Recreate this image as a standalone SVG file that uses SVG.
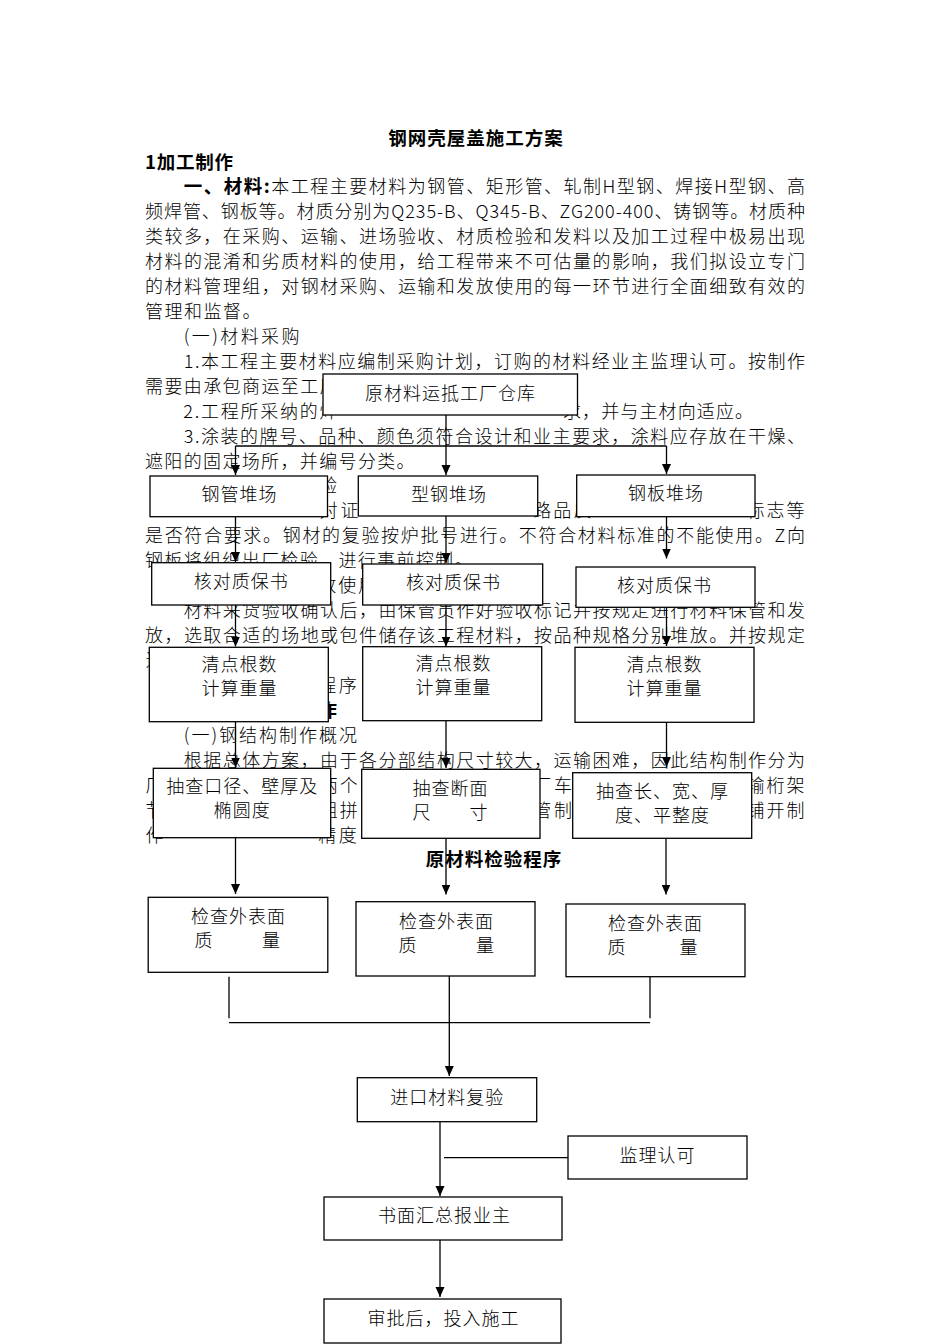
<svg xmlns="http://www.w3.org/2000/svg" width="950" height="1344" viewBox="0 0 950 1344">
<defs>
<style>
text{font-family:"Noto Sans CJK SC","Noto Sans CJK JP",sans-serif;font-size:18px;fill:#000;font-weight:300}
.b{font-weight:bold;font-size:18.5px}
.m{text-anchor:middle;letter-spacing:1px}
.box{fill:#fff;stroke:#000;stroke-width:1.3}
.ln{stroke:#000;stroke-width:1.3;fill:none}
.ar{marker-end:url(#ah)}
</style>
<marker id="ah" markerUnits="userSpaceOnUse" markerWidth="10" markerHeight="10" viewBox="0 0 10 10" refX="10" refY="5" orient="auto"><path d="M0,0.5 L10,5 L0,9.5 z" fill="#000"/></marker>
</defs>
<rect width="950" height="1344" fill="#fff"/>
<g id="body-text">
<text class="b m" x="476" y="145">钢网壳屋盖施工方案</text>
<text class="b" x="145" y="169" textLength="88">1加工制作</text>
<text x="183.8" y="193" textLength="621.2"><tspan class="b">一、材料:</tspan>本工程主要材料为钢管、矩形管、轧制H型钢、焊接H型钢、高</text>
<text x="145" y="218" textLength="660">频焊管、钢板等。材质分别为Q235-B、Q345-B、ZG200-400、铸钢等。材质种</text>
<text x="145" y="243" textLength="660">类较多，在采购、运输、进场验收、材质检验和发料以及加工过程中极易出现</text>
<text x="145" y="268" textLength="660">材料的混淆和劣质材料的使用，给工程带来不可估量的影响，我们拟设立专门</text>
<text x="145" y="293" textLength="660">的材料管理组，对钢材采购、运输和发放使用的每一环节进行全面细致有效的</text>
<text x="145" y="318" textLength="115.6">管理和监督。</text>
<text x="183.8" y="343" textLength="115.6">(一)材料采购</text>
<text x="183.8" y="368" textLength="621.2">1.本工程主要材料应编制采购计划，订购的材料经业主监理认可。按制作</text>
<text x="145" y="393" textLength="192.6">需要由承包商运至工厂</text>
<text x="183.3" y="417.5" textLength="154.1">2.工程所采纳的焊</text>
<text x="563" y="417.5" textLength="190">求，并与主材向适应。</text>
<text x="183.8" y="442.5" textLength="621.2">3.涂装的牌号、品种、颜色须符合设计和业主要求，涂料应存放在干燥、</text>
<text x="145" y="467.5" textLength="269.6">遮阳的固定场所，并编号分类。</text>
<text x="319" y="492.4">验</text>
<text x="319.7" y="517.4" textLength="38.8">对证</text>
<text x="533.2" y="517.4" textLength="58.2">路品质</text>
<text x="746.4" y="517.4" textLength="58.2">标志等</text>
<text x="145" y="542.3" textLength="660">是否符合要求。钢材的复验按炉批号进行。不符合材料标准的不能使用。Z向</text>
<text x="145" y="567.3" textLength="327.4">钢板将组织出厂检验，进行事前控制。</text>
<text x="318.3" y="592.2" textLength="57.8">放使用</text>
<text x="183.8" y="617.2" textLength="621.2">材料来货验收确认后，由保管员作好验收标记并按规定进行材料保管和发</text>
<text x="145" y="642.1" textLength="660">放，选取合适的场地或包件储存该工程材料，按品种规格分别堆放。并按规定</text>
<text x="145.5" y="667">进</text>
<text x="318.3" y="692" textLength="38.5">程序</text>
<text class="b" x="318.5" y="717">作</text>
<text x="183.8" y="741.9" textLength="173.3">(一)钢结构制作概况</text>
<text x="183.8" y="766.9" textLength="621.2">根据总体方案，由于各分部结构尺寸较大，运输困难，因此结构制作分为</text>
<text x="145.5" y="791.8">厂</text>
<text x="319.7" y="791.8" textLength="58.2">两个阶</text>
<text x="533.2" y="791.8" textLength="38.8">厂车</text>
<text x="746.4" y="791.8" textLength="58.2">输桁架</text>
<text x="145.5" y="816.8">节</text>
<text x="319.7" y="816.8" textLength="58.2">组拼，</text>
<text x="533.2" y="816.8" textLength="38.8">管制</text>
<text x="746.4" y="816.8" textLength="58.2">铺开制</text>
<text x="145.5" y="841.7">作</text>
<text x="318.3" y="841.7" textLength="38.5">精度</text>
<text class="b m" x="494" y="866">原材料检验程序</text>
</g>
<g id="connectors">
<line class="ln ar" x1="446" y1="415" x2="446" y2="475"/>
<line class="ln" x1="235.5" y1="446" x2="666.5" y2="446"/>
<line class="ln ar" x1="235.5" y1="446" x2="235.5" y2="475"/>
<line class="ln ar" x1="666.5" y1="446" x2="666.5" y2="474"/>
<line class="ln ar" x1="235.5" y1="516.7" x2="235.5" y2="562"/>
<line class="ln ar" x1="446" y1="516" x2="446" y2="563"/>
<line class="ln ar" x1="666.5" y1="516.7" x2="666.5" y2="558.5"/>
<line class="ln ar" x1="235.5" y1="605" x2="235.5" y2="646.5"/>
<line class="ln ar" x1="446" y1="605" x2="446" y2="646.5"/>
<line class="ln ar" x1="666.5" y1="607.3" x2="666.5" y2="646"/>
<line class="ln ar" x1="235.5" y1="721.7" x2="235.5" y2="767.5"/>
<line class="ln ar" x1="446" y1="720.7" x2="446" y2="768"/>
<line class="ln ar" x1="666.5" y1="722.3" x2="666.5" y2="767"/>
<line class="ln ar" x1="235.5" y1="837.7" x2="235.5" y2="894"/>
<line class="ln ar" x1="446" y1="838.3" x2="446" y2="894.5"/>
<line class="ln ar" x1="666" y1="838.3" x2="666" y2="894.5"/>
<line class="ln" x1="229" y1="976.7" x2="229" y2="1018.3"/>
<line class="ln" x1="650" y1="976.7" x2="650" y2="1018.3"/>
<line class="ln" x1="229" y1="1022.7" x2="650" y2="1022.7"/>
<line class="ln ar" x1="449.3" y1="976" x2="449.3" y2="1076"/>
<line class="ln ar" x1="440" y1="1121.7" x2="440" y2="1196"/>
<line class="ln" x1="444" y1="1157.7" x2="568" y2="1157.7"/>
<line class="ln ar" x1="440" y1="1240" x2="440" y2="1297"/>
</g>
<g id="n-warehouse"><rect class="box" x="323" y="374" width="254.5" height="41"/><text class="m" x="450.5" y="400">原材料运抵工厂仓库</text></g>
<g id="n-pipe-yard"><rect class="box" x="150" y="476" width="177.5" height="40.7"/><text class="m" x="239.5" y="500.5">钢管堆场</text></g>
<g id="n-section-yard"><rect class="box" x="358.3" y="476" width="179.4" height="40"/><text class="m" x="449" y="500.5">型钢堆场</text></g>
<g id="n-plate-yard"><rect class="box" x="576.7" y="475" width="178.3" height="41.7"/><text class="m" x="666" y="500">钢板堆场</text></g>
<g id="n-cert-1"><rect class="box" x="151.7" y="562.7" width="179" height="42.3"/><text class="m" x="241.2" y="587.5">核对质保书</text></g>
<g id="n-cert-2"><rect class="box" x="362.7" y="564" width="180" height="41"/><text class="m" x="453.5" y="589">核对质保书</text></g>
<g id="n-cert-3"><rect class="box" x="576" y="567" width="179" height="40.3"/><text class="m" x="664.5" y="592">核对质保书</text></g>
<g id="n-count-1"><rect class="box" x="149.3" y="647.3" width="179" height="74.4"/><text class="m" x="239.5" y="671">清点根数</text><text class="m" x="239.5" y="695">计算重量</text></g>
<g id="n-count-2"><rect class="box" x="362.7" y="646.7" width="179" height="74"/><text class="m" x="453.5" y="670">清点根数</text><text class="m" x="453.5" y="694">计算重量</text></g>
<g id="n-count-3"><rect class="box" x="575" y="647.3" width="179" height="75"/><text class="m" x="664.5" y="671">清点根数</text><text class="m" x="664.5" y="695">计算重量</text></g>
<g id="n-check-pipe"><rect class="box" x="153.3" y="768.3" width="177.4" height="69.4"/><text class="m" x="242.2" y="792.5">抽查口径、壁厚及</text><text class="m" x="242.2" y="816.5">椭圆度</text></g>
<g id="n-check-section"><rect class="box" x="361.7" y="769.3" width="178.3" height="69"/><text class="m" x="450.5" y="794.5">抽查断面</text><text y="818.5"><tspan x="412.5">尺</tspan><tspan x="469.5">寸</tspan></text></g>
<g id="n-check-plate"><rect class="box" x="572.7" y="772.7" width="179" height="65.6"/><text class="m" x="662.5" y="798">抽查长、宽、厚</text><text class="m" x="662.5" y="822">度、平整度</text></g>
<g id="n-surface-1"><rect class="box" x="148.2" y="897.3" width="179.6" height="75"/><text class="m" x="238.5" y="922.5">检查外表面</text><text y="946.5"><tspan x="194.5">质</tspan><tspan x="262">量</tspan></text></g>
<g id="n-surface-2"><rect class="box" x="356" y="901.7" width="179" height="74.3"/><text class="m" x="446.5" y="927.5">检查外表面</text><text y="951.5"><tspan x="398.5">质</tspan><tspan x="476">量</tspan></text></g>
<g id="n-surface-3"><rect class="box" x="566" y="904" width="179" height="72.7"/><text class="m" x="655.5" y="929.5">检查外表面</text><text y="953.5"><tspan x="607.5">质</tspan><tspan x="679.5">量</tspan></text></g>
<g id="n-recheck"><rect class="box" x="357.3" y="1077.7" width="179.4" height="44"/><text class="m" x="447.2" y="1104">进口材料复验</text></g>
<g id="n-supervisor"><rect class="box" x="568" y="1136" width="179" height="43"/><text class="m" x="657.5" y="1162">监理认可</text></g>
<g id="n-report"><rect class="box" x="324" y="1197" width="238" height="43"/><text class="m" x="444.5" y="1222">书面汇总报业主</text></g>
<g id="n-approve"><rect class="box" x="324" y="1299" width="237" height="44"/><text class="m" x="443.5" y="1325">审批后，投入施工</text></g>
</svg>
